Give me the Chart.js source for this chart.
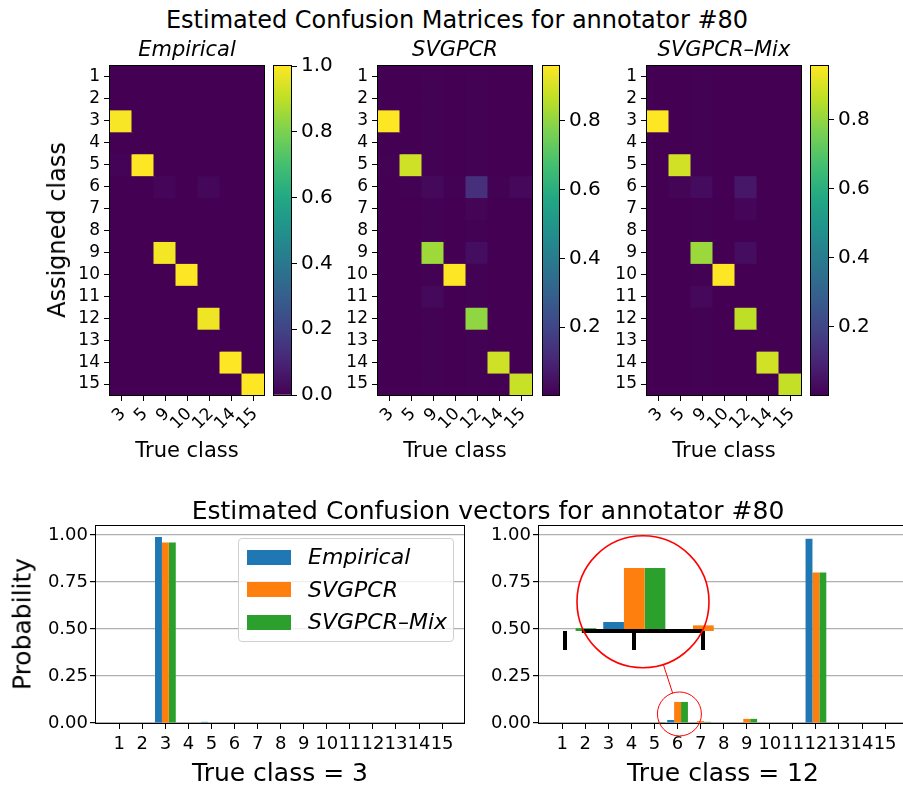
<!DOCTYPE html>
<html>
<head>
<meta charset="utf-8">
<script src="https://cdn.jsdelivr.net/npm/chart.js@4.4.0/dist/chart.umd.min.js"></script>
<style>
  body { margin: 0; background: #fff; }
  #fig { position: relative; width: 903px; height: 786px; overflow: hidden; font-family: 'DejaVu Sans', sans-serif; color: #000; }
  #fig canvas { position: absolute; }
  .lbl { position: absolute; transform: translate(-50%, -50%); white-space: nowrap; line-height: 1; }
  .legend { position: absolute; box-sizing: border-box; border: 1px solid #d0d0d0; border-radius: 4px; background: rgba(255,255,255,0.8); }
  .legend div { position: absolute; }
</style>
</head>
<body>
<div id="fig"></div>
<script>
// ---- data ----
const trueClasses = [3, 5, 9, 10, 12, 14, 15];
const assignedClasses = [1, 2, 3, 4, 5, 6, 7, 8, 9, 10, 11, 12, 13, 14, 15];

// rows = assigned class 1..15, columns = true classes above
const empiricalCM = [
  [0, 0, 0, 0, 0, 0, 0],
  [0, 0, 0, 0, 0, 0, 0],
  [0.99, 0, 0, 0, 0, 0, 0],
  [0, 0, 0, 0, 0, 0, 0],
  [0.006, 1.0, 0, 0, 0, 0, 0],
  [0, 0, 0.015, 0, 0.018, 0, 0],
  [0, 0, 0, 0, 0, 0, 0],
  [0, 0, 0, 0, 0, 0, 0],
  [0, 0, 0.985, 0, 0, 0, 0],
  [0, 0, 0, 1.0, 0, 0, 0],
  [0, 0, 0, 0, 0, 0, 0],
  [0, 0, 0, 0, 0.98, 0, 0],
  [0, 0, 0, 0, 0, 0, 0],
  [0, 0, 0, 0, 0, 1.0, 0],
  [0, 0, 0, 0, 0, 0, 1.0]
];
const svgpcrCM = [
  [0, 0, 0.004, 0, 0.004, 0, 0],
  [0, 0, 0.004, 0, 0.004, 0, 0],
  [0.96, 0, 0.004, 0, 0.004, 0, 0],
  [0, 0, 0.004, 0, 0.004, 0, 0],
  [0.005, 0.89, 0.004, 0, 0.004, 0, 0],
  [0, 0.004, 0.025, 0.004, 0.13, 0.004, 0.02],
  [0, 0, 0.004, 0, 0.012, 0, 0],
  [0, 0, 0.004, 0, 0.004, 0, 0],
  [0, 0, 0.82, 0, 0.035, 0, 0],
  [0, 0, 0.004, 0.96, 0.004, 0, 0],
  [0, 0, 0.025, 0, 0.004, 0, 0],
  [0, 0, 0.004, 0, 0.80, 0, 0],
  [0, 0, 0.004, 0, 0.004, 0, 0],
  [0, 0, 0.004, 0, 0.004, 0.89, 0],
  [0, 0, 0.004, 0, 0.004, 0, 0.88]
];
const mixCM = [
  [0, 0, 0.004, 0, 0, 0, 0],
  [0, 0, 0.004, 0, 0, 0, 0],
  [0.955, 0, 0.004, 0, 0, 0, 0],
  [0, 0, 0.004, 0, 0, 0, 0],
  [0, 0.89, 0.004, 0, 0, 0, 0],
  [0, 0.012, 0.03, 0, 0.06, 0, 0],
  [0, 0, 0.004, 0, 0.015, 0, 0],
  [0, 0, 0.004, 0, 0, 0, 0],
  [0, 0, 0.81, 0, 0.035, 0, 0],
  [0, 0, 0.004, 0.955, 0, 0, 0],
  [0, 0, 0.02, 0, 0, 0, 0],
  [0, 0, 0.004, 0, 0.86, 0, 0],
  [0, 0, 0.004, 0, 0, 0, 0],
  [0, 0, 0.004, 0, 0, 0.89, 0],
  [0, 0, 0.004, 0, 0, 0, 0.87]
];
const cbTicksFull = [0, 0.2, 0.4, 0.6, 0.8, 1.0];
const cbTicksPart = [0.2, 0.4, 0.6, 0.8];

const classes = [1, 2, 3, 4, 5, 6, 7, 8, 9, 10, 11, 12, 13, 14, 15];
const probTicks = [0, 0.25, 0.5, 0.75, 1.0];
const seriesNames = ['Empirical', 'SVGPCR', 'SVGPCR\u2013Mix'];
const seriesColors = ['#1f77b4', '#ff7f0e', '#2ca02c'];
const empiricalTrue3 = [0, 0, 0.99, 0, 0.006, 0, 0, 0, 0, 0, 0, 0, 0, 0, 0];
const svgpcrTrue3 = [0, 0, 0.96, 0, 0, 0, 0, 0, 0, 0, 0, 0, 0, 0, 0];
const mixTrue3 = [0, 0, 0.96, 0, 0, 0, 0, 0, 0, 0, 0, 0, 0, 0, 0];
const empiricalTrue12 = [0, 0, 0, 0, 0, 0.016, 0, 0, 0, 0, 0, 0.98, 0, 0, 0];
const svgpcrTrue12 = [0, 0, 0, 0, 0, 0.112, 0.01, 0, 0.022, 0, 0, 0.80, 0, 0, 0];
const mixTrue12 = [0, 0, 0, 0, 0.005, 0.112, 0.006, 0, 0.022, 0, 0, 0.80, 0, 0, 0];
const insetTicks = [5, 6, 7];

const viridisStops = ['#440154', '#482475', '#414487', '#355f8d', '#2a788e', '#21918c',
  '#22a884', '#44bf70', '#7ad151', '#bddf26', '#fde725'];

// ---- helpers ----
Chart.defaults.font.family = "'DejaVu Sans', sans-serif";
Chart.defaults.color = '#000';
Chart.defaults.animation = false;
Chart.defaults.events = [];
Chart.defaults.plugins.legend.display = false;
Chart.defaults.plugins.tooltip.enabled = false;

const framePlugin = {
  id: 'frame',
  afterDraw(chart, args, opts) {
    if (!opts.color) return;
    const {ctx, chartArea: a} = chart;
    ctx.save();
    ctx.strokeStyle = opts.color;
    ctx.lineWidth = 1;
    ctx.strokeRect(Math.round(a.left) - 0.5, Math.round(a.top) - 0.5,
      Math.round(a.right - a.left) + 1, Math.round(a.bottom - a.top) + 1);
    ctx.restore();
  }
};
Chart.register(framePlugin);

function hexRgb(h) {
  return [1, 3, 5].map(i => parseInt(h.slice(i, i + 2), 16));
}
function viridis(t) {
  t = Math.min(1, Math.max(0, t));
  const n = viridisStops.length - 1;
  const i = Math.min(n - 1, Math.floor(t * n));
  const f = t * n - i;
  const a = hexRgb(viridisStops[i]), b = hexRgb(viridisStops[i + 1]);
  const c = a.map((v, k) => Math.round(v + (b[k] - v) * f));
  return `rgb(${c[0]},${c[1]},${c[2]})`;
}

const fig = document.getElementById('fig');
function place(a, m) {
  const c = document.createElement('canvas');
  const w = a.r - a.l + m.l + m.r, h = a.b - a.t + m.t + m.b;
  c.width = w; c.height = h;
  Object.assign(c.style, {left: (a.l - m.l) + 'px', top: (a.t - m.t) + 'px', width: w + 'px', height: h + 'px'});
  fig.appendChild(c);
  return c;
}
function addText(t, x, y, size, italic, rotate) {
  const d = document.createElement('div');
  d.className = 'lbl';
  d.textContent = t;
  d.style.left = x + 'px';
  d.style.top = y + 'px';
  d.style.fontSize = size + 'px';
  if (italic) d.style.fontStyle = 'italic';
  if (rotate) d.style.transform = 'translate(-50%, -50%) rotate(-90deg)';
  fig.appendChild(d);
}

// ---- confusion matrices ----
function drawHeatmap(area, cm, vmin, vmax) {
  const m = {l: 60, t: 20, r: 8, b: 45};
  return new Chart(place(area, m), {
    type: 'bar',
    data: {
      labels: trueClasses.map(String),
      datasets: assignedClasses.map((r, i) => ({
        data: trueClasses.map(() => [r - 0.5, r + 0.5]),
        backgroundColor: cm[i].map(v => viridis((v - vmin) / (vmax - vmin))),
        grouped: false,
        barPercentage: 1,
        categoryPercentage: 1,
        borderWidth: 0,
        inflateAmount: 0.5
      }))
    },
    options: {
      responsive: false,
      devicePixelRatio: 1,
      layout: {padding: {left: 0, top: m.t, right: m.r, bottom: 0}},
      scales: {
        x: {
          afterFit: s => { s.height = m.b; },
          grid: {drawOnChartArea: false, offset: false, tickLength: 6, tickColor: '#000'},
          border: {display: false},
          ticks: {font: {size: 17}, minRotation: 45, maxRotation: 45, padding: 3, autoSkip: false, labelOffset: 2}
        },
        y: {
          type: 'linear',
          reverse: true,
          min: 0.5,
          max: 15.5,
          afterFit: s => { s.width = m.l; },
          afterBuildTicks: s => { s.ticks = assignedClasses.map(v => ({value: v})); },
          grid: {drawOnChartArea: false, tickLength: 6, tickColor: '#000'},
          border: {display: false},
          ticks: {font: {size: 17}, padding: 4, callback: v => String(v)}
        }
      },
      plugins: {frame: {color: '#000'}}
    }
  });
}

function drawColorbar(area, vmin, vmax, ticks) {
  const m = {l: 5, t: 20, r: 55, b: 20};
  return new Chart(place(area, m), {
    type: 'bar',
    data: {
      labels: [''],
      datasets: [{
        data: [[vmin, vmax]],
        backgroundColor: c => {
          const a = c.chart.chartArea;
          if (!a) return viridisStops[0];
          const g = c.chart.ctx.createLinearGradient(0, a.bottom, 0, a.top);
          viridisStops.forEach((col, i) => g.addColorStop(i / (viridisStops.length - 1), col));
          return g;
        },
        barPercentage: 1,
        categoryPercentage: 1,
        borderWidth: 0
      }]
    },
    options: {
      responsive: false,
      devicePixelRatio: 1,
      layout: {padding: {left: m.l, top: m.t, right: 0, bottom: m.b}},
      scales: {
        x: {display: false},
        y: {
          position: 'right',
          min: vmin,
          max: vmax,
          afterFit: s => { s.width = m.r; },
          afterBuildTicks: s => { s.ticks = ticks.map(v => ({value: v})); },
          grid: {drawOnChartArea: false, tickLength: 6, tickColor: '#000'},
          border: {display: false},
          ticks: {font: {size: 20}, padding: 4, callback: v => v.toFixed(1)}
        }
      },
      plugins: {frame: {color: '#000'}}
    }
  });
}

drawHeatmap({l: 110, t: 66, r: 264, b: 395}, empiricalCM, 0, 1.0);
drawColorbar({l: 274, t: 66, r: 291, b: 395}, 0, 1.0, cbTicksFull);
drawHeatmap({l: 378, t: 66, r: 532, b: 395}, svgpcrCM, 0.002, 0.96);
drawColorbar({l: 543, t: 66, r: 559, b: 395}, 0.002, 0.96, cbTicksPart);
drawHeatmap({l: 647, t: 66, r: 801, b: 395}, mixCM, 0.002, 0.955);
drawColorbar({l: 811, t: 66, r: 828, b: 395}, 0.002, 0.955, cbTicksPart);

// ---- confusion vectors ----
const barMargins = {l: 70, t: 20, r: 20, b: 40};
function barDatasets(vals) {
  return vals.map((v, k) => ({
    label: seriesNames[k],
    data: classes.map((c, i) => ({x: c, y: v[i]})),
    backgroundColor: seriesColors[k],
    categoryPercentage: 0.9,
    barPercentage: 1,
    borderWidth: 0
  }));
}
function drawBars(area, vals) {
  const m = barMargins;
  return new Chart(place(area, m), {
    type: 'bar',
    data: {datasets: barDatasets(vals)},
    options: {
      responsive: false,
      devicePixelRatio: 1,
      layout: {padding: {left: 0, top: m.t, right: m.r, bottom: 0}},
      scales: {
        x: {
          type: 'linear',
          min: -0.01,
          max: 15.95,
          offset: false,
          afterFit: s => { s.height = m.b; },
          afterBuildTicks: s => { s.ticks = classes.map(v => ({value: v})); },
          grid: {drawOnChartArea: false, offset: false, tickLength: 6, tickColor: '#000'},
          border: {display: false},
          ticks: {font: {size: 18}, padding: 5, autoSkip: false, minRotation: 0, maxRotation: 0, callback: v => String(v)}
        },
        y: {
          min: 0,
          max: 1.048,
          afterFit: s => { s.width = m.l; },
          afterBuildTicks: s => { s.ticks = probTicks.map(v => ({value: v})); },
          grid: {color: '#b0b0b0', lineWidth: 1.2, tickLength: 6, tickColor: '#000'},
          border: {display: false},
          ticks: {font: {size: 18}, padding: 2, callback: v => v.toFixed(2)}
        }
      },
      plugins: {frame: {color: '#000'}}
    }
  });
}

drawBars({l: 96, t: 526, r: 464, b: 723}, [empiricalTrue3, svgpcrTrue3, mixTrue3]);
const rightArea = {l: 539, t: 526, r: 907, b: 723};
const rightChart = drawBars(rightArea, [empiricalTrue12, svgpcrTrue12, mixTrue12]);

// ---- zoomed inset around class 6 ----
const zoomSpot = {x: 6.08, y: 0.048, r: 22};
const lens = {x: 4.5, y: 0.645, r: 66};
const insetArea = {l: 563, t: 555, r: 714, b: 631};
const zoomPlugin = {
  id: 'zoomMarks',
  beforeDraw(chart) {
    const ctx = chart.ctx, sx = rightChart.scales.x, sy = rightChart.scales.y;
    ctx.save();
    ctx.fillStyle = '#fff';
    ctx.beginPath();
    ctx.arc(sx.getPixelForValue(lens.x), sy.getPixelForValue(lens.y), lens.r, 0, Math.PI * 2);
    ctx.fill();
    ctx.restore();
  },
  afterDraw(chart) {
    const ctx = chart.ctx, sx = rightChart.scales.x, sy = rightChart.scales.y;
    const bx = sx.getPixelForValue(lens.x), by = sy.getPixelForValue(lens.y);
    const px = sx.getPixelForValue(zoomSpot.x), py = sy.getPixelForValue(zoomSpot.y);
    const dx = bx - px, dy = by - py, d = Math.hypot(dx, dy);
    ctx.save();
    ctx.strokeStyle = '#ff0000';
    ctx.lineWidth = 1.6;
    ctx.beginPath();
    ctx.arc(bx, by, lens.r, 0, Math.PI * 2);
    ctx.stroke();
    ctx.lineWidth = 1;
    ctx.beginPath();
    ctx.arc(px, py, zoomSpot.r, 0, Math.PI * 2);
    ctx.stroke();
    ctx.beginPath();
    ctx.moveTo(px + dx / d * zoomSpot.r, py + dy / d * zoomSpot.r);
    ctx.lineTo(bx - dx / d * lens.r, by - dy / d * lens.r);
    ctx.stroke();
    ctx.restore();
  }
};
(function drawInset() {
  const m = barMargins;
  const canvasLeft = rightArea.l - m.l, canvasTop = rightArea.t - m.t;
  const canvasRight = rightArea.r + m.r, canvasBottom = rightArea.b + m.b;
  const axisH = 20;
  const spine = {type: 'line', data: [{x: 5.24, y: 0}, {x: 6.98, y: 0}], borderColor: '#000',
    borderWidth: 4, pointRadius: 0, clip: false, order: -1};
  new Chart(place(rightArea, m), {
    type: 'bar',
    data: {datasets: [spine].concat(barDatasets([empiricalTrue12, svgpcrTrue12, mixTrue12]))},
    options: {
      responsive: false,
      devicePixelRatio: 1,
      layout: {padding: {
        left: insetArea.l - canvasLeft,
        top: insetArea.t - canvasTop,
        right: canvasRight - insetArea.r,
        bottom: canvasBottom - insetArea.b - axisH
      }},
      scales: {
        x: {
          type: 'linear',
          min: 4.967,
          max: 7.155,
          offset: false,
          afterFit: s => { s.height = axisH; },
          afterBuildTicks: s => { s.ticks = insetTicks.map(v => ({value: v})); },
          grid: {drawOnChartArea: false, offset: false, tickLength: 19, lineWidth: 4, tickColor: '#000'},
          border: {display: false},
          ticks: {display: false}
        },
        y: {display: false, min: 0, max: 0.135}
      }
    },
    plugins: [zoomPlugin]
  });
})();

// ---- legend ----
const lg = document.createElement('div');
lg.className = 'legend';
Object.assign(lg.style, {left: '238px', top: '538px', width: '216px', height: '104px'});
seriesNames.forEach((name, k) => {
  const cy = 18 + 32.5 * k;
  const patch = document.createElement('div');
  Object.assign(patch.style, {left: '8px', top: (cy - 7.5) + 'px', width: '44px', height: '15px', background: seriesColors[k]});
  const txt = document.createElement('div');
  txt.textContent = name;
  Object.assign(txt.style, {left: '69px', top: cy + 'px', transform: 'translateY(-50%)', fontSize: '22px', fontStyle: 'italic', lineHeight: '1', whiteSpace: 'nowrap'});
  lg.appendChild(patch);
  lg.appendChild(txt);
});
fig.appendChild(lg);

// ---- titles and axis labels ----
addText('Estimated Confusion Matrices for annotator #80', 457, 20, 24);
addText('Empirical', 187, 49, 21, true);
addText('SVGPCR', 455, 49, 21, true);
addText('SVGPCR\u2013Mix', 724, 49, 21, true);
addText('True class', 187, 450, 21);
addText('True class', 455, 450, 21);
addText('True class', 724, 450, 21);
addText('Assigned class', 57, 230, 24, false, true);
addText('Estimated Confusion vectors for annotator #80', 488, 510, 25);
addText('Probability', 22, 624, 25, false, true);
addText('True class = 3', 280, 772, 25);
addText('True class = 12', 723, 772, 25);
</script>
</body>
</html>
